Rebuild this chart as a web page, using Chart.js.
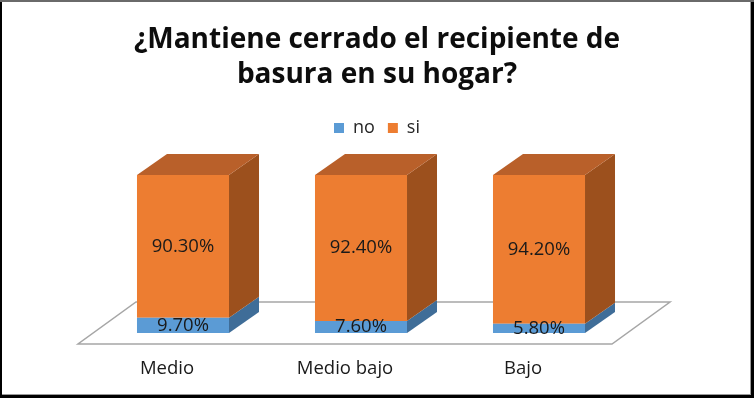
<!DOCTYPE html>
<html><head><meta charset="utf-8">
<script src="https://cdn.jsdelivr.net/npm/chart.js@4.4.1/dist/chart.umd.min.js"></script>
<style>html,body{margin:0;padding:0;background:#fff}#wrap{width:754px;height:398px;position:relative}</style>
</head><body><div id="wrap"><canvas id="c" width="754" height="398"></canvas></div>
<script>
// ---- data ----
const categories = ['Medio', 'Medio bajo', 'Bajo'];
const seriesNames = ['no', 'si'];
const noValues = [9.7, 7.6, 5.8];
const siValues = [90.3, 92.4, 94.2];
const titleLines = ['¿Mantiene cerrado el recipiente de', 'basura en su hogar?'];

// ---- style ----
const DEPTH_X = 30, DEPTH_Y = -21;
const frontColors = ['#5B9BD5', '#ED7D31'];
const sideColors  = ['#3F6D98', '#9C501D'];
const topColors   = ['#41719C', '#B9602A'];
const FONT = "'Open Sans', 'DejaVu Sans', sans-serif";

const framePlugin = {
  id: 'frame',
  beforeDraw(chart) {
    const {ctx, width, height} = chart;
    ctx.save();
    ctx.fillStyle = '#000';
    ctx.fillRect(0, 0, width, height);
    ctx.fillStyle = '#6a6a6a';
    ctx.fillRect(0, 0, width, 2);
    ctx.fillStyle = '#9a9a9a';
    ctx.fillRect(2, 2, width - 5, height - 5);
    ctx.fillStyle = '#fff';
    ctx.fillRect(2, 2, width - 6, height - 6);
    ctx.restore();
  }
};

const floorPlugin = {
  id: 'floor3d',
  beforeDatasetsDraw(chart) {
    const {ctx, chartArea: a} = chart;
    const fx = -16, fy = 11;           // front edge shift
    const bx = 58, by = -42;           // floor depth
    const x0 = a.left + fx, x1 = a.right + fx, y0 = a.bottom + fy;
    ctx.save();
    ctx.beginPath();
    ctx.moveTo(x0, y0);
    ctx.lineTo(x1, y0);
    ctx.lineTo(x1 + bx, y0 + by);
    ctx.lineTo(x0 + bx, y0 + by);
    ctx.closePath();
    ctx.fillStyle = '#fff';
    ctx.fill();
    ctx.strokeStyle = '#a6a6a6';
    ctx.lineWidth = 1.5;
    ctx.stroke();
    ctx.restore();
  }
};

const facesPlugin = {
  id: 'faces3d',
  afterDatasetsDraw(chart) {
    const {ctx} = chart;
    const n = chart.data.datasets.length;
    ctx.save();
    for (let d = 0; d < n; d++) {
      const meta = chart.getDatasetMeta(d);
      meta.data.forEach(el => {
        const p = el.getProps(['x', 'y', 'base', 'width'], true);
        const l = p.x - p.width / 2, r = p.x + p.width / 2;
        const t = Math.min(p.y, p.base), b = Math.max(p.y, p.base);
        ctx.beginPath();
        ctx.moveTo(r, t);
        ctx.lineTo(r + DEPTH_X, t + DEPTH_Y);
        ctx.lineTo(r + DEPTH_X, b + DEPTH_Y);
        ctx.lineTo(r, b);
        ctx.closePath();
        ctx.fillStyle = sideColors[d];
        ctx.fill();
        if (d === n - 1) {
          ctx.beginPath();
          ctx.moveTo(l, t);
          ctx.lineTo(l + DEPTH_X, t + DEPTH_Y);
          ctx.lineTo(r + DEPTH_X, t + DEPTH_Y);
          ctx.lineTo(r, t);
          ctx.closePath();
          ctx.fillStyle = topColors[d];
          ctx.fill();
        }
      });
    }
    // value labels
    ctx.fillStyle = '#1a1a1a';
    ctx.font = '18.5px ' + FONT;
    ctx.textAlign = 'center';
    ctx.textBaseline = 'middle';
    for (let d = 0; d < n; d++) {
      const meta = chart.getDatasetMeta(d);
      const vals = chart.data.datasets[d].data;
      meta.data.forEach((el, i) => {
        const p = el.getProps(['x', 'y', 'base'], true);
        ctx.fillText(vals[i].toFixed(2) + '%', p.x, (p.y + p.base) / 2);
      });
    }
    ctx.restore();
  }
};

new Chart(document.getElementById('c'), {
  type: 'bar',
  data: {
    labels: categories,
    datasets: [
      { label: seriesNames[0], data: noValues, backgroundColor: frontColors[0], borderWidth: 0 },
      { label: seriesNames[1], data: siValues, backgroundColor: frontColors[1], borderWidth: 0 }
    ]
  },
  options: {
    responsive: false,
    animation: false,
    devicePixelRatio: 1,
    layout: { padding: 0 },
    datasets: { bar: { categoryPercentage: 1, barPercentage: 0.517 } },
    plugins: {
      tooltip: { enabled: false },
      title: {
        display: true,
        text: titleLines,
        color: '#0d0d0d',
        font: { family: FONT, size: 28, weight: 'bold', lineHeight: 35 / 28 },
        padding: { top: 23, bottom: 13 }
      },
      legend: {
        position: 'top',
        labels: {
          boxWidth: 10, boxHeight: 10, padding: 13,
          color: '#262626',
          font: { family: FONT, size: 18 }
        }
      }
    },
    scales: {
      x: {
        stacked: true,
        grid: { display: false, drawTicks: false },
        border: { display: false },
        ticks: { color: '#1a1a1a', font: { family: FONT, size: 18.5 }, labelOffset: -16, padding: 25 },
        afterFit(s) { s.height = 65; }
      },
      spacerTop: {
        axis: 'x', type: 'category', position: 'top',
        grid: { display: false, drawTicks: false }, border: { display: false },
        ticks: { display: false },
        afterFit(s) { s.height = 28; }
      },
      y: {
        stacked: true, min: 0, max: 100,
        grid: { display: false, drawTicks: false }, border: { display: false },
        ticks: { display: false },
        afterFit(s) { s.width = 94; }
      },
      spacerRight: {
        axis: 'y', type: 'linear', position: 'right',
        grid: { display: false, drawTicks: false }, border: { display: false },
        ticks: { display: false },
        afterFit(s) { s.width = 126; }
      }
    }
  },
  plugins: [framePlugin, floorPlugin, facesPlugin]
});
</script>
</body></html>
